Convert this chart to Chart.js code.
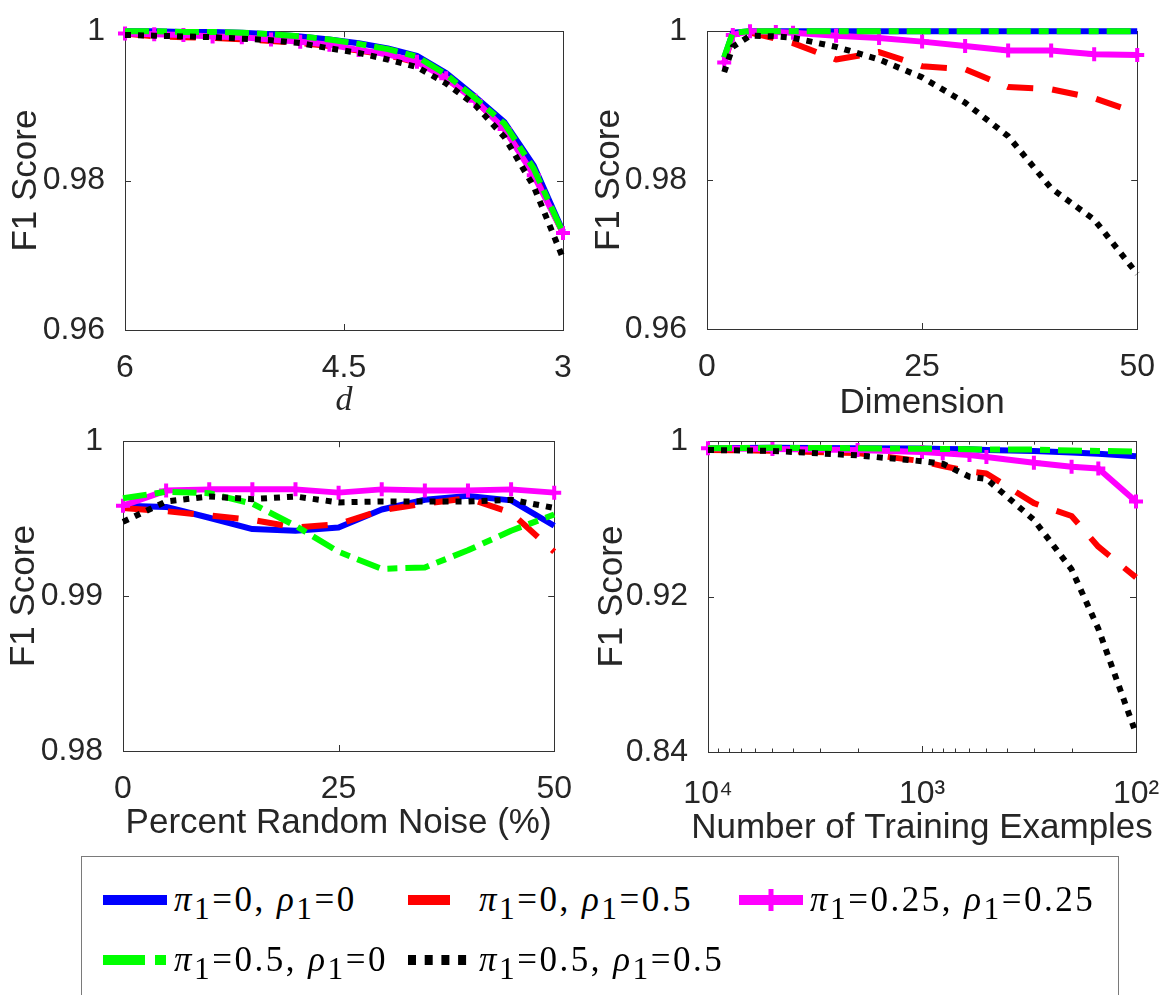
<!DOCTYPE html>
<html lang="en">
<head>
<meta charset="UTF-8">
<title>F1 Score sensitivity</title>
<script src="https://cdn.jsdelivr.net/npm/chart.js"></script>
<style>
  html, body { margin: 0; padding: 0; background: #fff; overflow: hidden; }
  #page { position: relative; width: 1166px; height: 995px; }
  .panel { position: absolute; }
  #legend {
    position: absolute; left: 81px; top: 856px; width: 1038px; height: 170px;
    border: 1px solid #7a7a7a; box-sizing: border-box; background: #fff;
    display: grid; grid-template-columns: 305px 331px auto; grid-auto-rows: 60px;
    padding: 13px 0 0 21px;
  }
  .item { display: flex; align-items: center; }
  .item canvas { margin-right: 7px; }
  .item span {
    font-family: "Liberation Serif", "Times New Roman", serif; font-size: 35px; letter-spacing: 2.5px;
    color: #000; white-space: nowrap;
  }
  .item sub { font-size: 0.9em; vertical-align: -0.25em; line-height: 0; }
</style>
</head>
<body>
<div id="page">
  <div class="panel" style="left:0;top:0"><canvas id="cA" width="583" height="421"></canvas></div>
  <div class="panel" style="left:583px;top:0"><canvas id="cB" width="583" height="421"></canvas></div>
  <div class="panel" style="left:0;top:410px"><canvas id="cC" width="583" height="433"></canvas></div>
  <div class="panel" style="left:583px;top:410px"><canvas id="cD" width="583" height="436"></canvas></div>
  <div id="legend"></div>
</div>
<script>
// d sweep (x axis runs 6 -> 3)
const dA = [6.0, 5.8, 5.6, 5.4, 5.2, 5.0, 4.8, 4.6, 4.4, 4.2, 4.0, 3.8, 3.6, 3.4, 3.2, 3.0];
const blueA    = [1.0000, 1.0000, 0.9999, 0.9999, 0.9998, 0.9996, 0.9993, 0.9989, 0.9984, 0.9977, 0.9967, 0.9944, 0.9912, 0.9878, 0.9820, 0.9732];
const redA     = [0.9997, 0.9993, 0.9992, 0.9991, 0.9989, 0.9987, 0.9984, 0.9980, 0.9974, 0.9968, 0.9958, 0.9937, 0.9907, 0.9869, 0.9809, 0.9730];
const magentaA = [0.9997, 0.9996, 0.9995, 0.9993, 0.9992, 0.9989, 0.9986, 0.9982, 0.9975, 0.9969, 0.9959, 0.9937, 0.9907, 0.9869, 0.9807, 0.9730];
const greenA   = [1.0000, 1.0000, 0.9999, 0.9999, 0.9998, 0.9996, 0.9993, 0.9989, 0.9983, 0.9976, 0.9966, 0.9942, 0.9910, 0.9876, 0.9816, 0.9730];
const blackA   = [0.9995, 0.9994, 0.9993, 0.9992, 0.9990, 0.9988, 0.9984, 0.9977, 0.9971, 0.9962, 0.9952, 0.9930, 0.9901, 0.9858, 0.9792, 0.9696];

// dimension sweep
const dimB = [2, 3, 5, 8, 10, 15, 20, 25, 30, 35, 40, 45, 50];
const blueB    = [0.9964, 0.9998, 1, 1, 1, 1, 1, 1, 1, 1, 1, 1, 1];
const redB     = [0.9957, 0.9995, 0.9998, 0.9990, 0.9984, 0.9962, 0.9972, 0.9953, 0.9949, 0.9925, 0.9922, 0.9910, 0.9890];
const magentaB = [0.9958, 0.9995, 1.0000, 0.9999, 0.9998, 0.9994, 0.9991, 0.9986, 0.9980, 0.9974, 0.9974, 0.9969, 0.9968];
const greenB   = [0.9965, 0.9998, 1, 1, 1, 1, 1, 1, 1, 1, 1, 1, 1];
const blackB   = [0.9945, 0.9979, 0.9994, 0.9993, 0.9991, 0.9979, 0.9962, 0.9938, 0.9904, 0.9859, 0.9789, 0.9747, 0.9674];

// random label noise sweep
const noiseC = [0, 5, 10, 15, 20, 25, 30, 35, 40, 45, 50];
const blueC    = [0.99584, 0.99576, 0.99506, 0.99433, 0.99422, 0.99443, 0.99559, 0.99622, 0.99647, 0.99618, 0.99454];
const redC     = [0.99569, 0.99548, 0.99521, 0.99492, 0.99443, 0.99464, 0.99555, 0.99597, 0.99632, 0.99538, 0.99286];
const magentaC = [0.99584, 0.99681, 0.99689, 0.99689, 0.99689, 0.99668, 0.99689, 0.99681, 0.99681, 0.99689, 0.99668];
const greenC   = [0.99632, 0.99674, 0.99664, 0.99597, 0.99454, 0.99286, 0.99176, 0.99185, 0.99296, 0.99422, 0.99527];
const blackC   = [0.99479, 0.99611, 0.99643, 0.99626, 0.99643, 0.99605, 0.99611, 0.99611, 0.99611, 0.99622, 0.99569];

// training set size sweep (log axis, 10^4 -> 10^2)
const trainD = [10000, 5000, 2000, 1000, 800, 600, 500, 300, 200, 150, 100];
const blueD    = [0.9964, 0.9966, 0.9964, 0.9962, 0.9960, 0.9958, 0.9955, 0.9950, 0.9942, 0.9935, 0.9922];
const redD     = [0.9955, 0.9951, 0.9939, 0.9897, 0.9872, 0.9845, 0.9834, 0.9681, 0.9615, 0.9457, 0.9299];
const magentaD = [0.9964, 0.9960, 0.9955, 0.9944, 0.9938, 0.9929, 0.9919, 0.9889, 0.9869, 0.9860, 0.9689];
const greenD   = [0.9964, 0.9966, 0.9964, 0.9961, 0.9960, 0.9959, 0.9957, 0.9957, 0.9952, 0.9950, 0.9947];
const blackD   = [0.9955, 0.9950, 0.9927, 0.9897, 0.9884, 0.9817, 0.9806, 0.9595, 0.9340, 0.9035, 0.8495];

// axis ticks
const xTicksA = [6, 4.5, 3];     const yTicksA = [0.96, 0.98, 1];
const xTicksB = [0, 25, 50];     const yTicksB = [0.96, 0.98, 1];
const xTicksC = [0, 25, 50];     const yTicksC = [0.98, 0.99, 1];
const xTicksD = [10000, 1000, 100];
const xTickTextD = ['10\u2074', '10\u00b3', '10\u00b2'];
const yTicksD = [0.84, 0.92, 1];

// legend entries
const piVals  = ['0', '0', '0.25', '0.5', '0.5'];
const rhoVals = ['0', '0.5', '0.25', '0', '0.5'];

const styles = [
  { color: '#0000ff', dash: [],              legendDash: [] },
  { color: '#ff0000', dash: [26, 19],        legendDash: [42, 22] },
  { color: '#ff00ff', dash: [],              legendDash: [], marker: true },
  { color: '#00ff00', dash: [24, 8, 10, 8],  legendDash: [42, 10, 11, 10] },
  { color: '#000000', dash: [6, 7],          legendDash: [8, 8.7] }
];

const TXT = '#262626';
const SANS = '"Liberation Sans", Arial, Helvetica, sans-serif';

function makeSets(xs, series) {
  return series.map((ys, k) => {
    const st = styles[k];
    return {
      label: 'pi=' + piVals[k] + ', rho=' + rhoVals[k],
      data: xs.map((x, i) => ({ x: x, y: ys[i] })),
      borderColor: st.color,
      backgroundColor: st.color,
      borderWidth: 6,
      borderDash: st.dash,
      borderCapStyle: 'butt',
      borderJoinStyle: 'round',
      pointRadius: st.marker ? 7 : 0,
      pointStyle: 'cross',
      pointBorderWidth: 4,
      pointBorderColor: st.color,
      tension: 0,
      clip: false,
      order: 5 - k
    };
  });
}

// axes box with inward tick marks on all four sides
const frame = {
  id: 'frame',
  beforeDatasetsDraw(chart) {
    const { ctx, chartArea: a, scales } = chart;
    ctx.save();
    ctx.strokeStyle = '#333';
    ctx.lineWidth = 1;
    ctx.strokeRect(Math.round(a.left) + 0.5, Math.round(a.top) + 0.5,
                   Math.round(a.right - a.left), Math.round(a.bottom - a.top));
    ctx.beginPath();
    scales.x.ticks.forEach(t => {
      const px = Math.round(scales.x.getPixelForValue(t.value)) + 0.5;
      const len = t.label ? 6 : 3.5;
      ctx.moveTo(px, a.bottom); ctx.lineTo(px, a.bottom - len);
      ctx.moveTo(px, a.top); ctx.lineTo(px, a.top + len);
    });
    scales.y.ticks.forEach(t => {
      const py = Math.round(scales.y.getPixelForValue(t.value)) + 0.5;
      ctx.moveTo(a.left, py); ctx.lineTo(a.left + 6, py);
      ctx.moveTo(a.right, py); ctx.lineTo(a.right - 6, py);
    });
    ctx.stroke();
    ctx.restore();
  }
};

// x axis caption, centred under the plot without width squeezing
const xTitle = {
  id: 'xTitle',
  afterDraw(chart, args, opts) {
    const { ctx, chartArea: a } = chart;
    ctx.save();
    ctx.font = opts.font;
    ctx.fillStyle = TXT;
    ctx.textAlign = 'center';
    ctx.textBaseline = 'alphabetic';
    ctx.fillText(opts.text, (a.left + a.right) / 2, a.bottom + opts.offset);
    ctx.restore();
  }
};

function panel(id, p) {
  return new Chart(document.getElementById(id), {
    type: 'line',
    data: { datasets: makeSets(p.x, p.series) },
    options: {
      responsive: false,
      animation: false,
      events: [],
      devicePixelRatio: 1,
      layout: { padding: { left: 0, top: p.top, right: p.right, bottom: 0 } },
      plugins: {
        legend: { display: false },
        tooltip: { enabled: false },
        xTitle: { text: p.xTitle, font: p.xTitleFont, offset: p.xTitleOffset }
      },
      scales: {
        x: {
          type: p.xType,
          reverse: p.reverse,
          min: p.xMin,
          max: p.xMax,
          grid: { display: false },
          border: { display: false },
          afterBuildTicks: s => { s.ticks = p.xTicks.map(v => ({ value: v })); },
          afterFit: s => { s.height = p.bottomH; },
          ticks: {
            autoSkip: false,
            maxRotation: 0,
            padding: p.xTickPad,
            color: TXT,
            font: { family: SANS, size: 32 },
            callback: p.xLabel
          }
        },
        y: {
          type: 'linear',
          min: p.yTicks[0],
          max: p.yTicks[p.yTicks.length - 1],
          grid: { display: false },
          border: { display: false },
          afterBuildTicks: s => { s.ticks = p.yTicks.map(v => ({ value: v })); },
          afterFit: s => { s.width = p.leftW; },
          ticks: {
            padding: 12,
            color: TXT,
            font: { family: SANS, size: 32 },
            callback: v => String(v)
          },
          title: {
            display: true,
            text: 'F1 Score',
            color: TXT,
            font: { family: SANS, size: 35 },
            padding: { top: p.yTitlePad, bottom: 0 }
          }
        }
      }
    },
    plugins: [frame, xTitle]
  });
}

panel('cA', {
  x: dA, series: [blueA, redA, magentaA, greenA, blackA],
  xType: 'linear', reverse: true, xMin: 3, xMax: 6,
  xTicks: xTicksA, yTicks: yTicksA, xLabel: v => String(v),
  top: 17, right: 20, leftW: 125, bottomH: 91, xTickPad: 11, yTitlePad: 5,
  xTitle: 'd', xTitleFont: 'italic 34px "Liberation Serif", serif', xTitleOffset: 80
});

panel('cB', {
  x: dimB, series: [blueB, redB, magentaB, greenB, blackB],
  xType: 'linear', reverse: false, xMin: 0, xMax: 50,
  xTicks: xTicksB, yTicks: yTicksB, xLabel: v => String(v),
  top: 17, right: 28, leftW: 124, bottomH: 92, xTickPad: 11, yTitlePad: 5,
  xTitle: 'Dimension', xTitleFont: '35px ' + SANS, xTitleOffset: 84
});

panel('cC', {
  x: noiseC, series: [blueC, redC, magentaC, greenC, blackC],
  xType: 'linear', reverse: false, xMin: 0, xMax: 50,
  xTicks: xTicksC, yTicks: yTicksC, xLabel: v => String(v),
  top: 23, right: 24, leftW: 123, bottomH: 92, xTickPad: 11, yTitlePad: 3,
  xTitle: 'Percent Random Noise (%)', xTitleFont: '35px ' + SANS, xTitleOffset: 82
});

// log axis: labelled decades plus unlabelled minor positions
const minorD = [];
[100, 1000].forEach(dec => { for (let m = 1; m < 10; m++) minorD.push(m * dec); });
minorD.push(10000);

panel('cD', {
  x: trainD, series: [blueD, redD, magentaD, greenD, blackD],
  xType: 'logarithmic', reverse: true, xMin: 100, xMax: 10000,
  xTicks: minorD, yTicks: yTicksD,
  xLabel: v => { const i = xTicksD.indexOf(v); return i >= 0 ? xTickTextD[i] : ''; },
  top: 21, right: 30, leftW: 125, bottomH: 94, xTickPad: 15, yTitlePad: 8,
  xTitle: 'Number of Training Examples', xTitleFont: '35px ' + SANS, xTitleOffset: 86
});

// legend built from the same series styles
const legend = document.getElementById('legend');
styles.forEach((st, k) => {
  const item = document.createElement('div');
  item.className = 'item';
  const cv = document.createElement('canvas');
  cv.width = 64; cv.height = 24;
  const c = cv.getContext('2d');
  c.strokeStyle = st.color;
  c.lineWidth = 10;
  c.setLineDash(st.legendDash);
  c.beginPath(); c.moveTo(0, 12); c.lineTo(64, 12); c.stroke();
  if (st.marker) {
    c.setLineDash([]);
    c.lineWidth = 5;
    c.beginPath(); c.moveTo(32, 1); c.lineTo(32, 23); c.stroke();
  }
  const span = document.createElement('span');
  span.innerHTML = '<i>\u03c0</i><sub>1</sub>=' + piVals[k] + ', <i>\u03c1</i><sub>1</sub>=' + rhoVals[k];
  item.appendChild(cv);
  item.appendChild(span);
  legend.appendChild(item);
});
</script>
</body>
</html>
